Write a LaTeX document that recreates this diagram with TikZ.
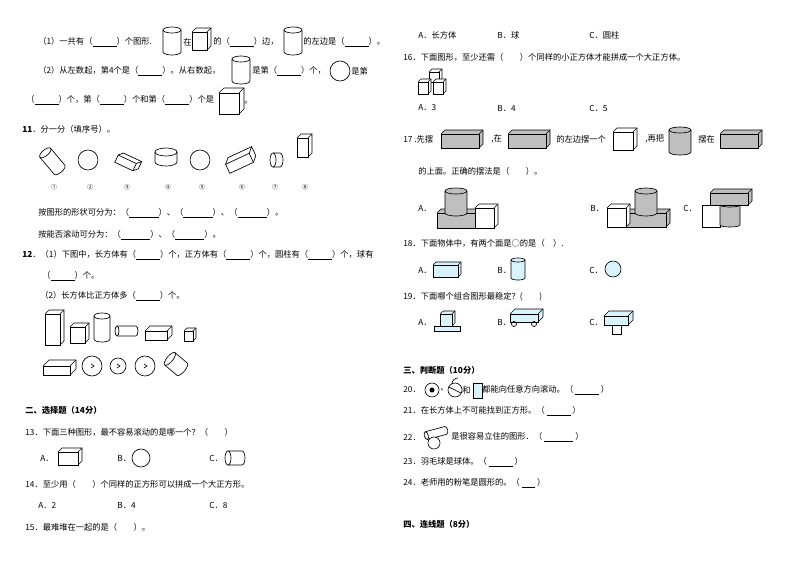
\documentclass[tikz,border=0pt]{standalone}
\usepackage{fontspec}
\setmainfont{Noto Sans CJK SC}
\newcommand\bl[1]{\underline{\hspace{#1}}}
\newcommand\cuboid[6]{\fill[#6] (#1,#2) -- ++(#5,-#5) -- ++(#3,0) -- ++(0,#4) -- ++(-#5,#5) -- ++(-#3,0) -- cycle;
 \draw (#1,#2) rectangle ++(#3,#4); \draw (#1,#2) -- ++(#5,-#5) -- ++(#3,0) -- ++(0,#4) -- ++(-#5,#5); \draw (#1+#3,#2) -- ++(#5,-#5);}
\newcommand\vcyl[6]{\fill[#6] (#1-#3,#2) -- (#1-#3,#2+#4) arc(180:0:#3 and #5) -- (#1+#3,#2) -- cycle; \fill[#6] (#1,#2) ellipse (#3 and #5);
 \draw (#1-#3,#2) -- (#1-#3,#2+#4) arc(180:0:#3 and #5) -- (#1+#3,#2); \draw (#1,#2) ellipse (#3 and #5);}
\newcommand\hcyl[5]{\draw (#1,#2) ellipse (#5 and #4); \draw (#1,#2-#4) -- (#1+#3,#2-#4) arc(-90:90:#5 and #4) -- (#1,#2+#4);}
\begin{document}
\begin{tikzpicture}[x=0.75pt,y=-0.75pt,line width=0.5pt,
 t/.style={anchor=west,inner sep=0pt,font=\fontsize{6.2}{7}\selectfont},
 h/.style={t,font=\fontsize{6.2}{7}\selectfont\bfseries}]
\useasboundingbox[fill=white] (0,0) rectangle (794,561);
\colorlet{gb}{black!25}\colorlet{lb}{cyan!15}
% ---------- left column
\node[t] (l1) at (38,42) {（1）一共有（\bl{18pt}）个图形.};
\vcyl{172}{30}{9}{22}{3}{white}
\node[t] (l1b) at (183,42) {在};
\cuboid{192}{32}{15}{18}{4}{white}
\node[t] (l1c) at (213,42) {的（\bl{18pt}）边，};
\vcyl{293}{30}{9}{22}{3}{white}
\node[t] (l1d) at (303,42) {的左边是（\bl{18pt}）。};
\node[t] (l2) at (38,71) {（2）从左数起，第4个是（\bl{18pt}）。从右数起，};
\vcyl{241}{59}{9}{22}{3}{white}
\node[t] (l2b) at (252,71) {是第（\bl{18pt}）个，};
\draw (340,71) circle (10);
\node[t] (l2c) at (351,71) {是第};
\node[t] (l3) at (26,100) {（\bl{18pt}）个，第（\bl{18pt}）个和第（\bl{18pt}）个是};
\cuboid{219}{93}{20}{21}{5}{white}
\node[t] (l3b) at (244,103) {。};
\node[h] (q11) at (22,129) {11\textmd{．分一分（填序号）。}};
\begin{scope}[shift={(53,162)},rotate=-50]\hcyl{-12}{0}{22}{7}{3}\end{scope}
\draw (88,160) circle (10);
\begin{scope}[shift={(126,162)},rotate=-25]\cuboid{-10}{-3}{20}{8}{4}{white}\end{scope}
\vcyl{166}{152}{11}{10}{4}{white}
\draw (200,160) circle (10);
\begin{scope}[shift={(240,162)},rotate=25]\cuboid{-14}{-4}{26}{10}{5}{white}\end{scope}
\draw (273,153) -- (280,153) arc(-90:90:3 and 7) -- (273,167); \draw (273,160) ellipse (3 and 7);
\cuboid{297}{138}{11}{19}{4}{white}
\foreach \x/\n in {54/①,90/②,127/③,168/④,202/⑤,242/⑥,275/⑦,305/⑧}
 \node[t,anchor=center,font=\fontsize{4.5}{5}\selectfont] at (\x,187) {\n};
\node[t] (s1) at (38,213) {按图形的形状可分为：（\bl{22pt}）、（\bl{22pt}）、（\bl{22pt}）。};
\node[t] (s2) at (38,235) {按能否滚动可分为：（\bl{22pt}）、（\bl{22pt}）。};
\node[h] (q12) at (22,255) {12\textmd{．（1）下图中，长方体有（\bl{18pt}）个，正方体有（\bl{18pt}）个，圆柱有（\bl{18pt}）个，球有}};
\node[t] (q12b) at (42,276) {（\bl{18pt}）个。};
\node[t] (q12c) at (40,296) {（2）长方体比正方体多（\bl{18pt}）个。};
\cuboid{45}{314}{15}{31}{4}{white}
\cuboid{70}{327}{15}{16}{4}{white}
\vcyl{102}{316}{8}{23}{3}{white}
\hcyl{117}{331}{19}{5}{2}
\cuboid{145}{331}{22}{9}{5}{white}
\cuboid{184}{331}{9}{10}{3}{white}
\cuboid{43}{366}{27}{9}{6}{white}
\foreach \cx/\r in {92/10,118/8,145/10}{\draw (\cx,366) circle (\r); \draw (\cx-1,364) -- (\cx+2,366) -- (\cx-1,368);}
\begin{scope}[shift={(176,364)},rotate=-40]\hcyl{-8}{0}{16}{8}{3}\end{scope}
\node[h] (s2t) at (25,410) {二、选择题（14分）};
\node[t] (q13) at (25,432) {13．下面三种图形，最不容易滚动的是哪一个？（　　）};
\node[t] (q13a) at (40,458) {A．}; \cuboid{58}{452}{20}{13}{4}{white}
\node[t] (q13b) at (117,458) {B．}; \draw (141,458) circle (9);
\node[t] (q13c) at (209,458) {C．}; \hcyl{228}{458}{14}{7}{3}
\node[t] (q14) at (25,484) {14．至少用（　　）个同样的正方形可以拼成一个大正方形。};
\node[t] at (38,505) {A．2}; \node[t] at (117,505) {B．4}; \node[t] at (209,505) {C．8};
\node[t] (q15) at (25,527) {15．最难堆在一起的是（　　）。};
% ---------- right column
\node[t] at (418,35) {A．长方体}; \node[t] at (497,35) {B．球}; \node[t] at (589,35) {C．圆柱};
\node[t] (q16) at (403,57) {16．下面图形，至少还需（　　）个同样的小正方体才能拼成一个大正方体。};
\cuboid{429}{72}{10}{10}{3}{white}
\cuboid{418}{82}{10}{12}{3}{white}
\cuboid{433}{82}{10}{12}{3}{white}
\node[t] at (418,108) {A．3}; \node[t] at (497,108) {B．4}; \node[t] at (589,108) {C．5};
\node[t] (q17) at (403,139) {17 .先摆};
\cuboid{441}{134}{38}{14}{4}{gb}
\node[t] at (491,139) {,在};
\cuboid{508}{134}{38}{14}{4}{gb}
\node[t] at (556,139) {的左边摆一个};
\cuboid{613}{132}{20}{18}{4}{white}
\node[t] at (645,139) {,再把};
\vcyl{680}{130}{11}{22}{3}{gb}
\node[t] at (698,139) {摆在};
\cuboid{720}{134}{38}{14}{4}{gb}
\node[t] (q17b) at (418,171) {的上面。正确的摆法是（　　）。};
\node[t] at (418,208) {A．};
\cuboid{437}{213}{40}{15}{4}{gb}
\vcyl{456}{191}{11}{22}{3}{gb}
\cuboid{475}{208}{19}{20}{4}{white}
\node[t] at (590,208) {B．};
\cuboid{626}{213}{40}{14}{4}{gb}
\cuboid{607}{208}{19}{19}{4}{white}
\vcyl{646}{191}{11}{22}{3}{gb}
\node[t] at (683,208) {C．};
\cuboid{702}{205}{18}{22}{0}{white}
\vcyl{730}{205}{10}{20}{2}{gb}
\cuboid{710}{193}{38}{12}{4}{gb}
\node[t] (q18) at (403,243) {18．下面物体中，有两个面是○的是（　）.};
\node[t] at (418,270) {A．}; \cuboid{433}{265}{25}{12}{3}{lb}
\node[t] at (497,270) {B．}; \vcyl{518}{260}{7}{18}{2}{lb}
\node[t] at (589,270) {C．}; \draw[fill=lb] (613,269) circle (8);
\node[t] (q19) at (403,297) {19．下面哪个组合图形最稳定？(　　)};
\node[t] at (418,322) {A．};
\draw[fill=lb] (434,326) rectangle (460,331); \cuboid{440}{314}{12}{12}{3}{lb}
\node[t] at (497,322) {B．};
\cuboid{510}{314}{28}{8}{5}{lb}
\draw (514,324) circle (2.5); \draw (534,324) circle (2.5);
\node[t] at (589,322) {C．};
\cuboid{604}{316}{24}{9}{5}{lb}
\draw (612,325) rectangle (621,334);
\node[h] (s3) at (403,370) {三、判断题（10分）};
\node[t] (q20) at (403,390) {20．};
\draw (432,390) circle (7); \fill (432,390) circle (2.5);
\node[t] at (440,390) {、};
\draw (455,390) circle (7); \draw (449,387) -- (461,393) (452,384) arc(180:270:6);
\node[t] at (462,390) {和};
\draw[fill=lb] (473,383) rectangle (482,398);
\node[t] at (482,390) {都能向任意方向滚动。（\ \bl{18pt}\ ）};
\node[t] (q21) at (403,411) {21．在长方体上不可能找到正方形。（\ \bl{18pt}\ ）};
\node[t] (q22) at (403,437) {22．};
\begin{scope}[shift={(436,433)},rotate=15]\hcyl{-10}{0}{20}{4}{2}\end{scope}
\draw[fill=white] (434,443) circle (6);
\node[t] at (451,437) {是很容易立住的图形．（\ \bl{22pt}\ ）};
\node[t] (q23) at (403,462) {23．羽毛球是球体。（\ \bl{18pt}\ ）};
\node[t] (q24) at (403,483) {24．老师用的粉笔是圆形的。（\ \bl{10pt}\ ）};
\node[h] (s4) at (403,524) {四、连线题（8分）};
\end{tikzpicture}
\end{document}
